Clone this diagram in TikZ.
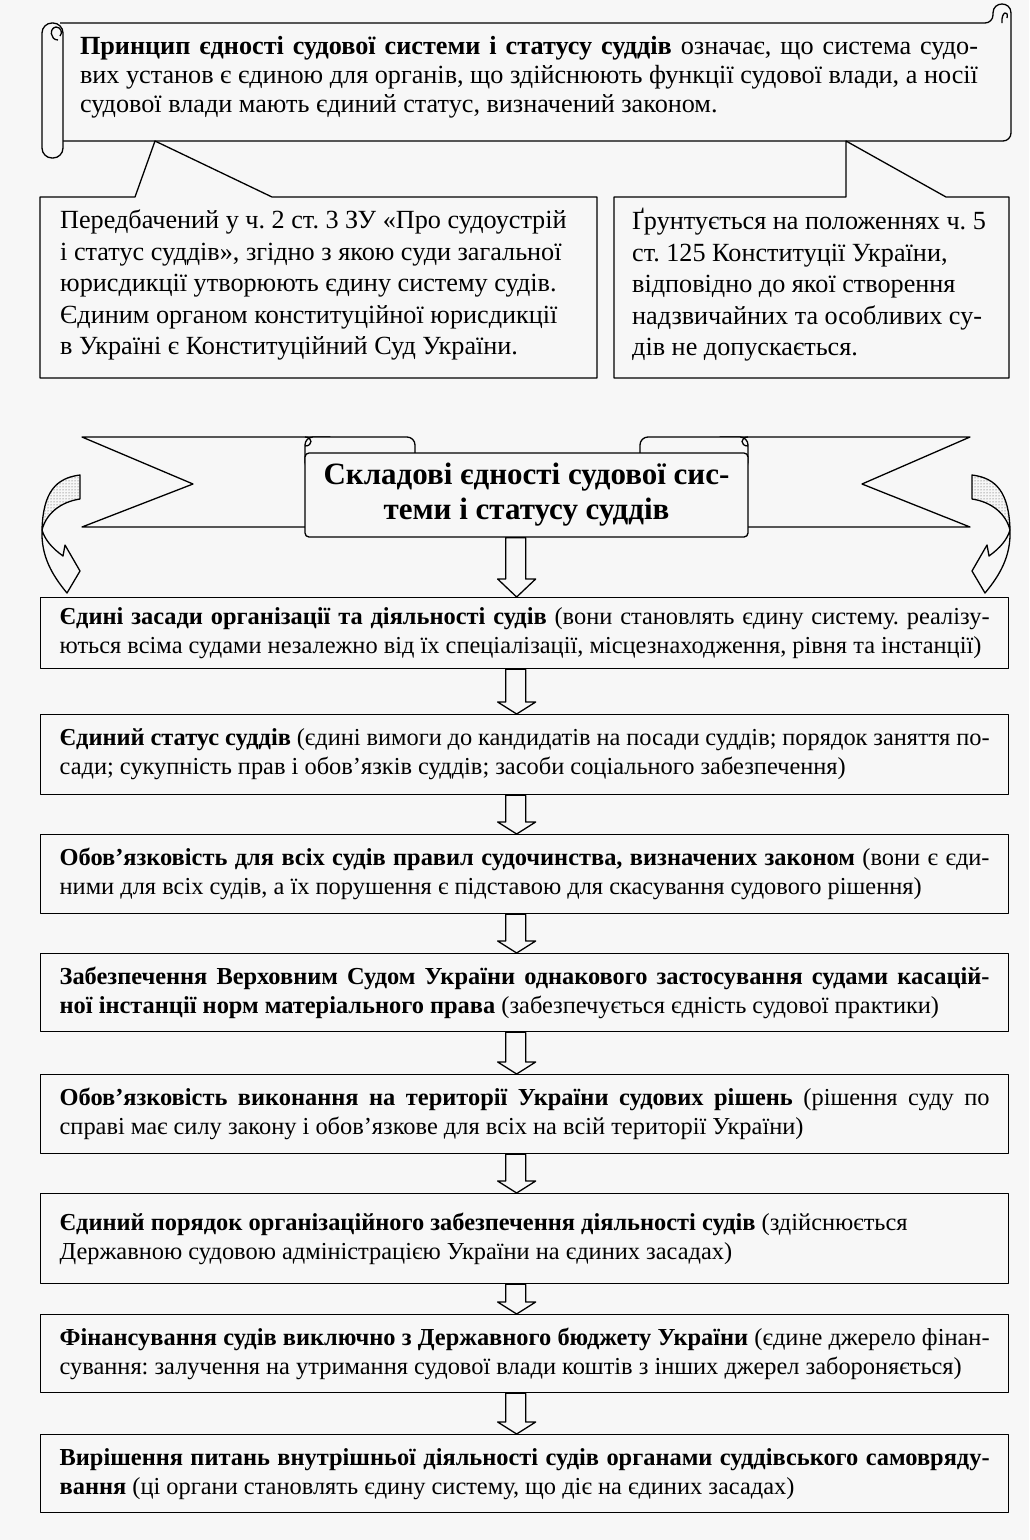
\documentclass[tikz,border=0pt]{standalone}
\usepackage{fontspec}
\setmainfont{Liberation Serif}
\usetikzlibrary{patterns,calc}
\definecolor{paper}{RGB}{247,247,247}
\hyphenpenalty=10000
\exhyphenpenalty=10000
\frenchspacing
\tikzset{
  ink/.style={draw=black, line width=1.3pt, line join=round},
  stagebox/.style={ink, fill=paper, minimum width=968pt, text width=930pt, inner xsep=19pt, inner ysep=0pt, align=justify, anchor=north west, font=\fontsize{24.4}{29}\selectfont\frenchspacing},
  calltext/.style={align=left, inner sep=0pt, anchor=west, font=\fontsize{26.2}{31.5}\selectfont\frenchspacing},
  blockarrow/.style={ink, fill=paper},
}
\newcommand\downblock[3]{%
  \path (#2.north) ++(-8,0) coordinate (tip)
    ++(-11,-#3) coordinate (sl) ++(20,0) coordinate (sr)
    ($(tip)+(-19,-#3)$) coordinate (hl) ($(tip)+(19,-#3)$) coordinate (hr);
  \draw[blockarrow] (sl |- #1.south) -- (sl) -- (hl) -- (tip) -- (hr) -- (sr) -- (sr |- #1.south) -- cycle;}
\newcommand\curlyarrow{%
  \fill[paper] (80,475) .. controls (56,478) and (43,492) .. (42,530) .. controls (46,514) and (60,502) .. (80,499) -- cycle;
  \fill[pattern=dots, pattern color=black!75] (80,475) .. controls (56,478) and (43,492) .. (42,530) .. controls (46,514) and (60,502) .. (80,499) -- cycle;
  \draw[ink] (80,475) .. controls (56,478) and (43,492) .. (42,530) .. controls (46,514) and (60,502) .. (80,499) -- cycle;
  \draw[ink, fill=paper] (42,530) .. controls (41,556) and (52,575) .. (67,593) -- (80,571) -- (65,545) -- (63,556) .. controls (52,548) and (45,540) .. (42,530) -- cycle;}
\begin{document}
\begin{tikzpicture}[x=1pt,y=-1pt]
\useasboundingbox (0,0) rectangle (1029,1540);
\fill[paper] (0,0) rectangle (1029,1540);

% ---------- top scroll ----------
\draw[ink, fill=paper, rounded corners=8] (60,23) -- (993,23) [sharp corners] -- (993,13) .. controls (993,1) and (1011,1) .. (1011,13) [rounded corners=8] -- (1011,141) -- (60,141);
\draw[ink] (1002,23) .. controls (1001,11) and (1009,10) .. (1007,18);
\draw[ink, fill=paper, rounded corners=10] (42,23) rectangle (63,158);
\draw[ink] (58,40) .. controls (50,40) and (49,28) .. (56,27) .. controls (61,27) and (63,33) .. (60,36);
\node[inner sep=0pt, text width=898pt, align=justify, font=\fontsize{26.2}{29}\selectfont\frenchspacing] (scrolltext) at (529,77) {\textbf{Принцип єдності судової системи і статусу суддів} означає, що система судо-\linebreak вих установ є єдиною для органів, що здійснюють функції судової влади, а носії\linebreak судової влади мають єдиний статус, визначений законом.};

% ---------- callouts ----------
\draw[ink, fill=paper] (40,197) -- (135,197) -- (155,141) -- (272,197) -- (597,197) -- (597,378) -- (40,378) -- cycle;
\draw[ink, fill=paper] (614,197) -- (846,197) -- (846,141) -- (946,197) -- (1009,197) -- (1009,378) -- (614,378) -- cycle;
\node[calltext] (calla) at (60,285) {Передбачений у ч. 2 ст. 3 ЗУ «Про судоустрій\\ і статус суддів», згідно з якою суди загальної\\ юрисдикції утворюють єдину систему судів.\\ Єдиним органом конституційної юрисдикції\\ в Україні є Конституційний Суд України.};
\node[calltext] (callb) at (632,285) {Ґрунтується на положеннях ч. 5\\ ст. 125 Конституції України,\\ відповідно до якої створення\\ надзвичайних та особливих су-\\ дів не допускається.};

% ---------- ribbon ----------
\draw[ink, fill=paper] (82,437) -- (330,437) -- (330,527) -- (82,527) -- (193,484) -- cycle;
\draw[ink, fill=paper] (970,437) -- (720,437) -- (720,527) -- (970,527) -- (862,484) -- cycle;
\draw[ink, fill=paper, rounded corners=8] (305,470) -- (305,437) -- (415,437) -- (415,470) -- cycle;
\draw[ink, fill=paper, rounded corners=8] (640,470) -- (640,437) -- (748,437) -- (748,470) -- cycle;
\draw[ink] (305,446) .. controls (313,446) and (313,437) .. (305,437);
\draw[ink] (748,446) .. controls (740,446) and (740,437) .. (748,437);
\node[ink, fill=paper, rounded corners=4, minimum width=443pt, minimum height=84pt, inner sep=0pt, align=center, font=\fontsize{31}{35}\selectfont\bfseries] (cbox) at (526.5,495) {Складові єдності судової сис-\\теми і статусу суддів};

% ---------- curved arrows ----------
\curlyarrow
\begin{scope}[xshift=1052pt, xscale=-1]
\curlyarrow
\end{scope}

% ---------- stage boxes ----------
\node[stagebox, minimum height=71pt] (b1) at (40,597) {\textbf{Єдині засади організації та діяльності судів} (вони становлять єдину систему. реалізу-\linebreak ються всіма судами незалежно від їх спеціалізації, місцезнаходження, рівня та інстанції)};
\node[stagebox, minimum height=80pt] (b2) at (40,714) {\textbf{Єдиний статус суддів} (єдині вимоги до кандидатів на посади суддів; порядок заняття по-\linebreak сади; сукупність прав і обов’язків суддів; засоби соціального забезпечення)};
\node[stagebox, minimum height=79pt] (b3) at (40,834) {\textbf{Обов’язковість для всіх судів правил судочинства, визначених законом} (вони є єди-\linebreak ними для всіх судів, а їх порушення є підставою для скасування судового рішення)};
\node[stagebox, minimum height=78pt] (b4) at (40,953) {\textbf{Забезпечення Верховним Судом України однакового застосування судами касацій-\linebreak ної інстанції норм матеріального права} (забезпечується єдність судової практики)};
\node[stagebox, minimum height=79pt] (b5) at (40,1074) {\textbf{Обов’язковість виконання на території України судових рішень} (рішення суду по\linebreak справі має силу закону і обов’язкове для всіх на всій території України)};
\node[stagebox, minimum height=90pt] (b6) at (40,1193) {\textbf{Єдиний порядок організаційного забезпечення діяльності судів} (здійснюється\\ Державною судовою адміністрацією України на єдиних засадах)};
\node[stagebox, minimum height=78pt] (b7) at (40,1314) {\textbf{Фінансування судів виключно з Державного бюджету України} (єдине джерело фінан-\linebreak сування: залучення на утримання судової влади коштів з інших джерел забороняється)};
\node[stagebox, minimum height=78pt] (b8) at (40,1434) {\textbf{Вирішення питань внутрішньої діяльності судів органами суддівського самовряду-\linebreak вання} (ці органи становлять єдину систему, що діє на єдиних засадах)};

% ---------- block arrows ----------
\downblock{cbox}{b1}{18}
\downblock{b1}{b2}{12}
\downblock{b2}{b3}{12}
\downblock{b3}{b4}{12}
\downblock{b4}{b5}{12}
\downblock{b5}{b6}{12}
\downblock{b6}{b7}{12}
\downblock{b7}{b8}{12}
\end{tikzpicture}
\end{document}
